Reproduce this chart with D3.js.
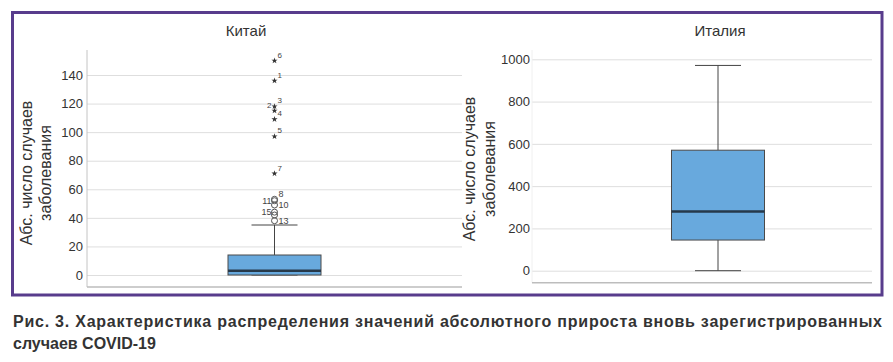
<!DOCTYPE html>
<html>
<head>
<meta charset="utf-8">
<script src="https://cdn.jsdelivr.net/npm/d3@7.9.0/dist/d3.min.js"></script>
<style>
  body { margin: 0; background: #fff; }
  svg { display: block; font-family: "Liberation Sans", Arial, sans-serif; }
</style>
</head>
<body>
<svg id="chart" width="893" height="362"></svg>
<script>
// panel titles
const countries = ['Китай', 'Италия'];
const yTitle = ['Абс. число случаев', 'заболевания'];

// box stats: [min whisker, q1, median, q3, max whisker]
const chinaStats = [0, 0, 3, 14, 35];
const italyStats = [0, 145, 280, 570, 971];

// tick labels
const chinaTicks = [0, 20, 40, 60, 80, 100, 120, 140];
const italyTicks = [0, 200, 400, 600, 800, 1000];

// China outliers: extreme (star) and mild (circle), with case numbers
const chinaExtremeValues = [150, 136, 118, 115, 109, 97, 71];
const chinaExtremeIds = ['6', '1', '3', '2', '4', '5', '7'];
const chinaOutlierValues = [53, 52, 49, 44, 42, 38];
const chinaOutlierIds = ['8', '11', '10', '15', '', '13'];
const leftSideIds = ['2', '11', '15'];

const caption = [
    'Рис. 3. Характеристика распределения значений абсолютного прироста вновь зарегистрированных',
    'случаев COVID-19'
];

const svg = d3.select('#chart');

// purple frame
svg.append('rect')
    .attr('x', 12.5).attr('y', 12.5)
    .attr('width', 869.5).attr('height', 282.5)
    .attr('fill', 'none')
    .attr('stroke', '#583c8c')
    .attr('stroke-width', 3);

function drawPanel(opt) {
    const g = svg.append('g');
    const y = d3.scaleLinear().domain(opt.domain).range([opt.bottom, 50]);
    const x = d3.scaleBand().domain([opt.title]).range(opt.bandRange);
    const cx = x(opt.title) + x.bandwidth() / 2;

    // gridlines + tick labels
    const axis = d3.axisLeft(y)
        .tickValues(opt.ticks)
        .tickFormat(d3.format('d'))
        .tickSize(-(opt.right - opt.left))
        .tickPadding(opt.pad);
    const ax = g.append('g')
        .attr('transform', `translate(${opt.left},0)`)
        .call(axis);
    ax.select('.domain').remove();
    ax.selectAll('.tick line').attr('stroke', '#dedede');
    ax.selectAll('.tick text')
        .attr('fill', '#333')
        .style('font-size', '13px');

    // axis frame lines
    g.append('line')
        .attr('x1', opt.left).attr('x2', opt.left)
        .attr('y1', 50).attr('y2', opt.bottom)
        .attr('stroke', opt.axisColor);
    g.append('line')
        .attr('x1', opt.left).attr('x2', opt.right)
        .attr('y1', opt.bottom).attr('y2', opt.bottom)
        .attr('stroke', '#bdbdbd').attr('stroke-width', 1.5);

    // title
    g.append('text')
        .attr('x', opt.titleX).attr('y', 36)
        .attr('text-anchor', 'middle')
        .attr('fill', '#333')
        .style('font-size', '15px')
        .text(opt.title);

    // y axis title (two rotated lines)
    yTitle.forEach((t, i) => {
        g.append('text')
            .attr('transform', `translate(${opt.yTitleX[i]},${opt.yTitleY}) rotate(-90)`)
            .attr('text-anchor', 'middle')
            .attr('fill', '#333')
            .style('font-size', '16px')
            .text(t);
    });

    const [lo, q1, med, q3, hi] = opt.stats;
    const bw = 93, cap = 46;

    // whiskers
    g.append('line')
        .attr('x1', cx).attr('x2', cx)
        .attr('y1', y(hi)).attr('y2', y(q3))
        .attr('stroke', '#444');
    g.append('line')
        .attr('x1', cx).attr('x2', cx)
        .attr('y1', y(q1)).attr('y2', y(lo))
        .attr('stroke', '#444');
    [hi, lo].forEach(v => {
        g.append('line')
            .attr('x1', cx - cap / 2).attr('x2', cx + cap / 2)
            .attr('y1', y(v)).attr('y2', y(v))
            .attr('stroke', '#444');
    });

    // box
    g.append('rect')
        .attr('x', cx - bw / 2).attr('y', y(q3))
        .attr('width', bw).attr('height', y(q1) - y(q3))
        .attr('fill', '#68a9dd')
        .attr('stroke', '#4a4a4a');
    g.append('line')
        .attr('x1', cx - bw / 2).attr('x2', cx + bw / 2)
        .attr('y1', y(med)).attr('y2', y(med))
        .attr('stroke', '#26394a').attr('stroke-width', 2.5);

    return { g, y, cx };
}

const china = drawPanel({
    title: countries[0], stats: chinaStats, ticks: chinaTicks,
    domain: [-8.4, 157.5], bottom: 287, left: 87, right: 462,
    bandRange: [87, 462], pad: 4, axisColor: '#c4c4c4',
    titleX: 246, yTitleX: [32, 50.5], yTitleY: 173
});

drawPanel({
    title: countries[1], stats: italyStats, ticks: italyTicks,
    domain: [-56.8, 1044], bottom: 282.7, left: 532, right: 872,
    bandRange: [564, 872], pad: 2, axisColor: '#f0f0f0',
    titleX: 720, yTitleX: [475, 494.5], yTitleY: 169
});

// outliers for China
const star = d3.symbol().type(d3.symbolStar).size(12);
chinaExtremeValues.forEach((v, i) => {
    const py = china.y(v);
    china.g.append('path')
        .attr('d', star)
        .attr('transform', `translate(${china.cx},${py})`)
        .attr('fill', '#333');
    const left = leftSideIds.includes(chinaExtremeIds[i]);
    china.g.append('text')
        .attr('x', left ? china.cx - 3 : china.cx + 3)
        .attr('y', py - 3)
        .attr('text-anchor', left ? 'end' : 'start')
        .attr('fill', '#444')
        .style('font-size', '8px')
        .text(chinaExtremeIds[i]);
});
chinaOutlierValues.forEach((v, i) => {
    const py = china.y(v);
    china.g.append('circle')
        .attr('cx', china.cx).attr('cy', py).attr('r', 3)
        .attr('fill', 'none')
        .attr('stroke', '#555');
    const left = leftSideIds.includes(chinaOutlierIds[i]);
    china.g.append('text')
        .attr('x', left ? china.cx - 3 : china.cx + 4)
        .attr('y', left ? py + 3 : py + (i === 0 ? -2 : 3))
        .attr('text-anchor', left ? 'end' : 'start')
        .attr('fill', '#444')
        .style('font-size', '9px')
        .text(chinaOutlierIds[i]);
});

// figure caption
caption.forEach((t, i) => {
    const txt = svg.append('text')
        .attr('x', 13).attr('y', 327 + i * 22)
        .attr('fill', '#333')
        .style('font-size', '16px')
        .style('font-weight', 'bold')
        .text(t);
    if (i === 0) txt.attr('textLength', 869).attr('lengthAdjust', 'spacing');
});
</script>
</body>
</html>
